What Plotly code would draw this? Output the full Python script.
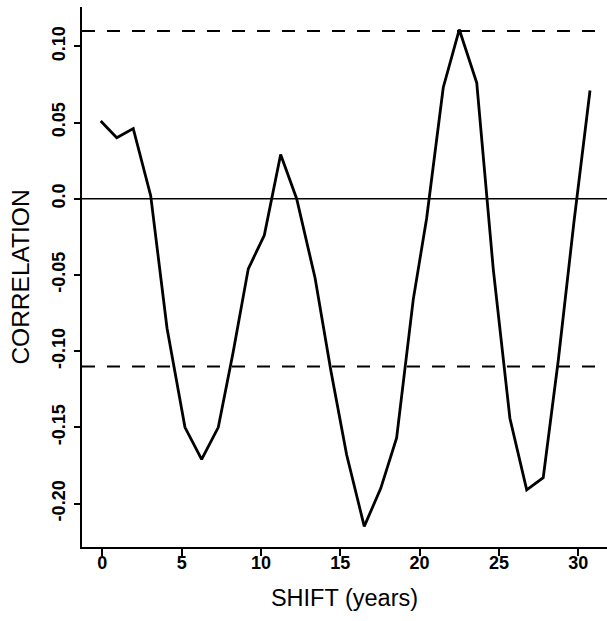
import plotly.graph_objects as go

# Shift positions as drawn (read against the x-axis ticks) and correlation values
shift = [-0.10, 0.91, 1.95, 3.05, 4.08, 5.21, 6.26, 7.31, 8.24, 9.20,
         10.21, 11.24, 12.25, 13.41, 14.41, 15.40, 16.51, 17.55, 18.55, 19.60,
         20.44, 21.49, 22.50, 23.60, 24.64, 25.69, 26.75, 27.79, 28.74, 29.73,
         30.74]
correlation = [0.051, 0.040, 0.046, 0.002, -0.085, -0.150, -0.171, -0.150, -0.101, -0.046,
               -0.024, 0.029, 0.000, -0.052, -0.113, -0.168, -0.215, -0.190, -0.157, -0.066,
               -0.013, 0.073, 0.111, 0.076, -0.046, -0.144, -0.191, -0.183, -0.106, -0.015,
               0.071]

zero_level = 0.0
significance_levels = [0.11, -0.11]

x_ticks = [0, 5, 10, 15, 20, 25, 30]
y_ticks = [0.10, 0.05, 0.0, -0.05, -0.10, -0.15, -0.20]
y_tick_text = ["0.10", "0.05", "0.0", "-0.05", "-0.10", "-0.15", "-0.20"]

FONT = "Liberation Sans, Arial, sans-serif"

fig = go.Figure()
fig.add_trace(go.Scatter(
    x=shift, y=correlation, mode="lines",
    line=dict(color="black", width=2.8),
    showlegend=False, hoverinfo="skip",
))

shapes = [dict(type="line", xref="paper", yref="y", x0=0, x1=1,
               y0=zero_level, y1=zero_level,
               line=dict(color="black", width=1.6), layer="below")]
for lvl in significance_levels:
    shapes.append(dict(type="line", xref="paper", yref="y", x0=0, x1=1,
                       y0=lvl, y1=lvl,
                       line=dict(color="black", width=2, dash="13px,12px"),
                       layer="below"))

fig.update_layout(
    width=607, height=621,
    margin=dict(l=82, r=0, t=7, b=74),
    paper_bgcolor="white", plot_bgcolor="white",
    font=dict(family=FONT, color="black"),
    shapes=shapes,
    xaxis=dict(
        range=[-1.28, 31.81], tickvals=x_ticks,
        ticks="outside", ticklen=7, tickwidth=1.5, tickcolor="black",
        showline=True, linewidth=2, linecolor="black",
        showgrid=False, zeroline=False,
        tickfont=dict(size=18, family=FONT, weight="bold"),
        ticklabelstandoff=-9,
        title=dict(text="SHIFT (years)", font=dict(size=23.5, family=FONT), standoff=18),
        automargin=False,
    ),
    yaxis=dict(
        range=[-0.2285, 0.1258], tickvals=y_ticks, ticktext=y_tick_text,
        tickangle=-90,
        ticks="outside", ticklen=6, tickwidth=1.5, tickcolor="black",
        showline=True, linewidth=2, linecolor="black",
        showgrid=False, zeroline=False,
        tickfont=dict(size=18, family=FONT, weight="bold"),
        ticklabelstandoff=2,
        title=dict(text="CORRELATION", font=dict(size=24.5, family=FONT), standoff=12),
        automargin=False,
    ),
)

fig.write_html("out.html")
